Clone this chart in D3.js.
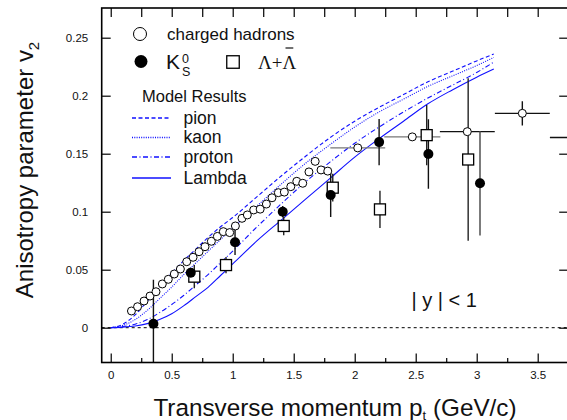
<html>
<script src="https://d3js.org/d3.v7.min.js"></script>
<style>
  body { margin: 0; background: white; }
  text { font-family: "Liberation Sans", Arial, sans-serif; fill: #111; }
</style>
<body>
<svg width=567 height=420></svg>
<script>
// charged hadrons (no visible error bars)
var chPt = [0.17, 0.22, 0.273, 0.322, 0.371, 0.423, 0.472, 0.521, 0.571, 0.623, 0.675, 0.724, 0.773, 0.825,
  0.874, 0.923, 0.975, 1.022, 1.076, 1.12, 1.172, 1.225, 1.276, 1.322, 1.374, 1.423, 1.476, 1.525, 1.574,
  1.625, 1.676, 1.724, 1.779];
var chV2 = [0.0144, 0.0181, 0.023, 0.0273, 0.031, 0.0377, 0.0417, 0.0463, 0.0506, 0.0569, 0.0607, 0.0655,
  0.0698, 0.0745, 0.0787, 0.0828, 0.082, 0.0877, 0.0943, 0.0972, 0.1015, 0.1022, 0.1066, 0.112, 0.1164,
  0.1169, 0.1216, 0.1262, 0.1245, 0.1343, 0.1434, 0.136, 0.135];
// charged hadrons with error bars
var chbPt = [2.025, 2.472, 2.923, 3.374, 3.85];
var chbV2 = [0.155, 0.1645, 0.169, 0.1848, 0.164];
var chbEx = [0.225, 0.23, 0.225, 0.225, 0.25];
var chbEy = [0, 0, 0, 0.0105, 0];
// K0s
var k0Pt = [0.35, 0.656, 1.019, 1.41, 1.803, 2.2, 2.604, 3.027];
var k0V2 = [0.0034, 0.0474, 0.0736, 0.1, 0.1144, 0.16, 0.1497, 0.1245];
var k0Ey = [0.038, 0.004, 0.011, 0.005, 0.019, 0.02, 0.03, 0.045];
// Lambda + anti-Lambda
var laPt = [0.685, 0.945, 1.418, 1.82, 2.207, 2.59, 2.93];
var laV2 = [0.044, 0.054, 0.0877, 0.1207, 0.102, 0.166, 0.145];
var laEy = [0.01, 0.007, 0.008, 0.012, 0.016, 0.026, 0.07];
// model curves
var modelPt = [0, 0.1, 0.2, 0.3, 0.4, 0.5, 0.6, 0.7, 0.8, 0.9, 1.0, 1.2, 1.4, 1.6, 1.8, 2.0, 2.2, 2.4, 2.6, 2.8, 3.0, 3.14];
var pionV2 = [0, 0.003, 0.011, 0.023, 0.035, 0.047, 0.058, 0.068, 0.078, 0.087, 0.095, 0.113, 0.131, 0.148, 0.164, 0.178, 0.19, 0.201, 0.212, 0.221, 0.23, 0.236];
var kaonV2 = [0, 0.002, 0.007, 0.015, 0.025, 0.035, 0.046, 0.056, 0.066, 0.076, 0.086, 0.105, 0.124, 0.142, 0.158, 0.173, 0.186, 0.197, 0.208, 0.217, 0.226, 0.233];
var protonV2 = [0, 0.001, 0.003, 0.007, 0.013, 0.02, 0.028, 0.037, 0.046, 0.056, 0.066, 0.087, 0.107, 0.126, 0.143, 0.159, 0.173, 0.186, 0.198, 0.209, 0.22, 0.229];
var lambdaV2 = [0, 0.0005, 0.0015, 0.0035, 0.007, 0.012, 0.019, 0.027, 0.035, 0.045, 0.055, 0.075, 0.093, 0.111, 0.129, 0.147, 0.163, 0.178, 0.193, 0.205, 0.216, 0.223];
// ticks
var xMajor = [0, 0.5, 1, 1.5, 2, 2.5, 3, 3.5];
var xMinor = [0.25, 0.75, 1.25, 1.75, 2.25, 2.75, 3.25];
var xLabels = ["0", "0.5", "1", "1.5", "2", "2.5", "3", "3.5"];
var yMajor = [0, 0.05, 0.1, 0.15, 0.2, 0.25];
var yLabels = ["0", "0.05", "0.1", "0.15", "0.2", "0.25"];

var models = [
  {name: "pion", v: pionV2, dash: "4,2.5"},
  {name: "kaon", v: kaonV2, dash: "1,1.3"},
  {name: "proton", v: protonV2, dash: "5,2.5,1,2.5"},
  {name: "Lambda", v: lambdaV2, dash: null}
];

var x = d3.scaleLinear().domain([-0.074, 3.75]).range([101.7, 568.2]);
var y = d3.scaleLinear().domain([-0.03, 0.2756]).range([362.5, 8]);
var svg = d3.select("svg");
var blue = "#1010ff";

svg.append("defs").append("clipPath").attr("id", "plot")
  .append("rect").attr("x", x(-0.074)).attr("y", y(0.2756))
  .attr("width", x(3.75) - x(-0.074)).attr("height", y(-0.03) - y(0.2756));

var plot = svg.append("g").attr("clip-path", "url(#plot)");

// zero line
plot.append("line")
  .attr("x1", x(-0.074)).attr("x2", x(3.75)).attr("y1", y(0)).attr("y2", y(0))
  .attr("stroke", "black").attr("stroke-width", 1).attr("stroke-dasharray", "3,3");

// model curves
var line = d3.line().curve(d3.curveMonotoneX)
  .x(function(d) { return x(d[0]); }).y(function(d) { return y(d[1]); });
models.forEach(function(m) {
  plot.append("path")
    .attr("d", line(modelPt.map(function(p, i) { return [p, m.v[i]]; })))
    .attr("fill", "none").attr("stroke", blue).attr("stroke-width", 1.1)
    .attr("stroke-dasharray", m.dash);
});

// error bars
function vbar(px, py, e, col) {
  plot.append("line").attr("x1", x(px)).attr("x2", x(px)).attr("y1", y(py - e)).attr("y2", y(py + e))
    .attr("stroke", col).attr("stroke-width", 1.4);
}
function hbar(px, py, e, col) {
  plot.append("line").attr("x1", x(px - e)).attr("x2", x(px + e)).attr("y1", y(py)).attr("y2", y(py))
    .attr("stroke", col).attr("stroke-width", 1.4);
}
chbPt.forEach(function(p, i) {
  hbar(p, chbV2[i], chbEx[i], i < 2 ? "#777" : "#111");
  if (chbEy[i] > 0) vbar(p, chbV2[i], chbEy[i], "#111");
});
k0Pt.forEach(function(p, i) { vbar(p, k0V2[i], k0Ey[i], i == 7 ? "#444" : "#111"); });
laPt.forEach(function(p, i) { vbar(p, laV2[i], laEy[i], "#222"); });

// markers
function openCircle(g, cx, cy, r) {
  g.append("circle").attr("cx", cx).attr("cy", cy).attr("r", r)
    .attr("fill", "white").attr("stroke", "black").attr("stroke-width", 1);
}
function dot(g, cx, cy, r) {
  g.append("circle").attr("cx", cx).attr("cy", cy).attr("r", r).attr("fill", "black");
}
function square(g, cx, cy, s) {
  g.append("rect").attr("x", cx - s / 2).attr("y", cy - s / 2).attr("width", s).attr("height", s)
    .attr("fill", "white").attr("stroke", "black").attr("stroke-width", 1.3);
}
chPt.forEach(function(p, i) { openCircle(plot, x(p), y(chV2[i]), 4); });
chbPt.forEach(function(p, i) { openCircle(plot, x(p), y(chbV2[i]), 4); });
laPt.forEach(function(p, i) { square(plot, x(p), y(laV2[i]), 11); });
k0Pt.forEach(function(p, i) { dot(plot, x(p), y(k0V2[i]), 5); });

// frame
svg.append("rect")
  .attr("x", x(-0.074)).attr("y", y(0.2756))
  .attr("width", x(3.75) - x(-0.074)).attr("height", y(-0.03) - y(0.2756))
  .attr("fill", "none").attr("stroke", "black").attr("stroke-width", 1.6);

// axes
function clean(g) { g.select(".domain").remove(); g.selectAll("line").attr("stroke-width", 1.2); }
svg.append("g").attr("transform", "translate(0," + y(-0.03) + ")")
  .call(d3.axisBottom(x).tickValues(xMajor).tickSize(-9).tickPadding(8)
    .tickFormat(function(d, i) { return xLabels[i]; }))
  .call(clean);
svg.append("g").attr("transform", "translate(0," + y(-0.03) + ")")
  .call(d3.axisBottom(x).tickValues(xMinor).tickSize(-4.5).tickFormat(""))
  .call(clean);
svg.append("g").attr("transform", "translate(0," + y(0.2756) + ")")
  .call(d3.axisTop(x).tickValues(xMajor.concat(xMinor)).tickSize(-9).tickFormat(""))
  .call(clean);
svg.append("g").attr("transform", "translate(" + x(-0.074) + ",0)")
  .call(d3.axisLeft(y).tickValues(yMajor).tickSize(-9).tickPadding(13.5)
    .tickFormat(function(d, i) { return yLabels[i]; }))
  .call(clean);
svg.append("g").attr("transform", "translate(" + x(3.75) + ",0)")
  .call(d3.axisRight(y).tickValues(yMajor).tickSize(-9).tickFormat(""))
  .call(clean);
svg.selectAll(".tick text").style("font-size", "11.5px")
  .style("font-family", "'Liberation Sans', Arial, sans-serif").attr("fill", "#222");

// axis titles
var xt = svg.append("text").attr("x", 335).attr("y", 415.5).attr("text-anchor", "middle")
  .style("font-size", "24.3px");
xt.append("tspan").text("Transverse momentum p");
xt.append("tspan").attr("dy", 4).style("font-size", "13px").text("t");
xt.append("tspan").attr("dy", -4).text(" (GeV/c)");

var yt = svg.append("text").attr("transform", "translate(33,170) rotate(-90)")
  .attr("text-anchor", "middle").style("font-size", "24px");
yt.append("tspan").text("Anisotropy parameter v");
yt.append("tspan").attr("dy", 6).style("font-size", "15px").text("2");

// legend
openCircle(svg, 140, 34, 6.5);
svg.append("text").attr("x", 167).attr("y", 40).style("font-size", "17px").text("charged hadrons");
dot(svg, 141, 61.5, 6.5);
svg.append("text").attr("x", 166).attr("y", 69).style("font-size", "21px").text("K");
svg.append("text").attr("x", 182).attr("y", 63).style("font-size", "12.5px").text("0");
svg.append("text").attr("x", 182).attr("y", 75.5).style("font-size", "12.5px").text("S");
square(svg, 233, 62, 12.5);
var lam = svg.append("text").attr("x", 258).attr("y", 69)
  .style("font-size", "19px").style("font-family", "'Liberation Serif', 'Times New Roman', serif")
  .text("\u039B+\u039B");
var l0 = lam.node().getSubStringLength(0, 2), l1 = lam.node().getSubStringLength(2, 1);
svg.append("line").attr("x1", 258 + l0 + 3).attr("x2", 258 + l0 + l1 - 3)
  .attr("y1", 48).attr("y2", 48).attr("stroke", "#111").attr("stroke-width", 1.2);

svg.append("text").attr("x", 142).attr("y", 102).style("font-size", "16.5px").text("Model Results");
models.forEach(function(m, i) {
  var ly = [118, 137.5, 157, 178][i];
  svg.append("line").attr("x1", 132).attr("x2", 171).attr("y1", ly).attr("y2", ly)
    .attr("stroke", blue).attr("stroke-width", 1.3).attr("stroke-dasharray", m.dash);
  svg.append("text").attr("x", 183.5).attr("y", ly + 5.5).style("font-size", "17.5px").text(m.name);
});

svg.append("text").attr("x", 411.5).attr("y", 307).style("font-size", "20px").text("| y | < 1");
</script>
</body>
</html>
